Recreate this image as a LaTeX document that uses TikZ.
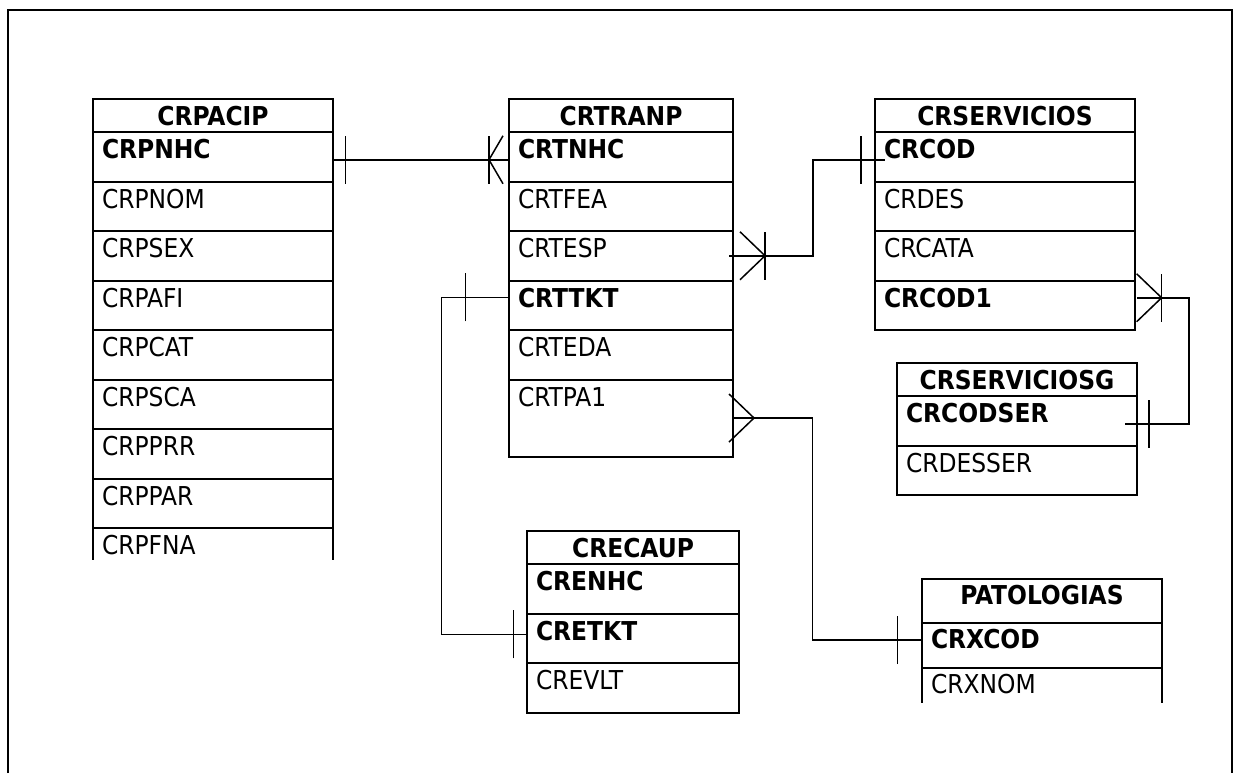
\documentclass[tikz,border=0pt]{standalone}
\usepackage{fontspec}
\setmainfont{DejaVu Sans Condensed}
\usetikzlibrary{positioning}

\newcommand{\erdfont}{\fontsize{13pt}{15pt}\selectfont}

% relationship ends
\tikzset{
  onebar/.pic={\draw[conn] (0,-12pt) -- (0,12pt);},
  crowfoot/.pic={\draw[conn] (12.5pt,12pt) -- (0,0) -- (12.5pt,-12pt);},
}

\begin{document}
\begin{tikzpicture}[x=0.5pt, y=-0.5pt,
    tbltitle/.style={draw, line width=1pt, outer sep=0pt, anchor=north west, font=\erdfont\bfseries,
      inner sep=0pt, minimum width=#1, minimum height=16.5pt, text height=13pt, text depth=3.5pt},
    tblfield/.style={draw, line width=1pt, outer sep=0pt, anchor=north, font=\erdfont,
      inner xsep=4.5pt, inner ysep=0pt, text width=#1, align=left,
      minimum height=24.75pt, text height=13.25pt, text depth=11.5pt},
    keyfield/.style={tblfield=#1, font=\erdfont\bfseries},
    conn/.style={line width=0.75pt}]
\useasboundingbox (0,0) rectangle (1235,773);

% outer frame, open at the bottom
\draw[line width=1pt] (8,773) -- (8,10) -- (1231.5,10) -- (1231.5,773);

% CRPACIP
\node[tbltitle=120pt] (pacip) at (93,99) {CRPACIP};
\node[keyfield=111pt, below=0pt of pacip] (pacip-nhc) {CRPNHC};
\node[tblfield=111pt, below=0pt of pacip-nhc] (pacip-nom) {CRPNOM};
\node[tblfield=111pt, below=0pt of pacip-nom] (pacip-sex) {CRPSEX};
\node[tblfield=111pt, below=0pt of pacip-sex] (pacip-afi) {CRPAFI};
\node[tblfield=111pt, below=0pt of pacip-afi] (pacip-cat) {CRPCAT};
\node[tblfield=111pt, below=0pt of pacip-cat] (pacip-sca) {CRPSCA};
\node[tblfield=111pt, below=0pt of pacip-sca] (pacip-prr) {CRPPRR};
\node[tblfield=111pt, below=0pt of pacip-prr] (pacip-par) {CRPPAR};
\node[tblfield=111pt, below=0pt of pacip-par, draw=none, minimum height=16pt, text depth=2.75pt] (pacip-fna) {CRPFNA};
\draw[line width=1pt] (pacip-fna.north west) -- (pacip-fna.south west)
  (pacip-fna.north east) -- (pacip-fna.south east);

% CRTRANP
\node[tbltitle=112pt] (tranp) at (509,99) {CRTRANP};
\node[keyfield=103pt, below=0pt of tranp] (tranp-nhc) {CRTNHC};
\node[tblfield=103pt, below=0pt of tranp-nhc] (tranp-fea) {CRTFEA};
\node[tblfield=103pt, below=0pt of tranp-fea] (tranp-esp) {CRTESP};
\node[keyfield=103pt, below=0pt of tranp-esp] (tranp-tkt) {CRTTKT};
\node[tblfield=103pt, below=0pt of tranp-tkt] (tranp-eda) {CRTEDA};
\node[tblfield=103pt, below=0pt of tranp-eda, minimum height=38.5pt, text depth=25.25pt] (tranp-pa1) {CRTPA1};

% CRSERVICIOS
\node[tbltitle=130pt] (serv) at (875,99) {CRSERVICIOS};
\node[keyfield=121pt, below=0pt of serv] (serv-cod) {CRCOD};
\node[tblfield=121pt, below=0pt of serv-cod] (serv-des) {CRDES};
\node[tblfield=121pt, below=0pt of serv-des] (serv-cata) {CRCATA};
\node[keyfield=121pt, below=0pt of serv-cata] (serv-cod1) {CRCOD1};

% CRSERVICIOSG
\node[tbltitle=120pt] (servg) at (897,363) {CRSERVICIOSG};
\node[keyfield=111pt, below=0pt of servg] (servg-codser) {CRCODSER};
\node[tblfield=111pt, below=0pt of servg-codser] (servg-desser) {CRDESSER};

% CRECAUP
\node[tbltitle=106pt] (ecaup) at (527,531) {CRECAUP};
\node[keyfield=97pt, below=0pt of ecaup] (ecaup-enhc) {CRENHC};
\node[keyfield=97pt, below=0pt of ecaup-enhc] (ecaup-etkt) {CRETKT};
\node[tblfield=97pt, below=0pt of ecaup-etkt] (ecaup-evlt) {CREVLT};

% PATOLOGIAS
\node[tbltitle=120pt, minimum height=22pt, text height=12.5pt, text depth=9.5pt] (pato) at (922,579) {PATOLOGIAS};
\node[keyfield=111pt, below=0pt of pato, minimum height=22.5pt, text height=12.5pt, text depth=10pt] (pato-xcod) {CRXCOD};
\node[tblfield=111pt, below=0pt of pato-xcod, draw=none, minimum height=17.5pt, text height=12.5pt, text depth=5pt] (pato-xnom) {CRXNOM};
\draw[line width=1pt] (pato-xnom.north west) -- (pato-xnom.south west)
  (pato-xnom.north east) -- (pato-xnom.south east);

% CRPACIP -- CRTRANP
\draw[conn] ([yshift=-1.5pt]pacip-nhc.east) -- ([yshift=-1.5pt]tranp-nhc.west);
\pic at ([xshift=6.35pt,yshift=-1.5pt]pacip-nhc.east) {onebar};
\pic at ([xshift=-10pt,yshift=-1.5pt]tranp-nhc.west) {onebar};
\pic[xscale=0.56] at ([xshift=-10pt,yshift=-1.5pt]tranp-nhc.west) {crowfoot};

% CRTRANP -- CRSERVICIOS
\draw[conn] ([xshift=-2pt]tranp-esp.east) -- ++(42pt,0) |- ([xshift=5pt,yshift=-1.5pt]serv-cod.west);
\pic at ([xshift=16pt]tranp-esp.east) {onebar};
\pic[xscale=-1] at ([xshift=16pt]tranp-esp.east) {crowfoot};
\pic at ([xshift=-7pt,yshift=-1.5pt]serv-cod.west) {onebar};

% CRSERVICIOS -- CRSERVICIOSG
\draw[conn] ([xshift=1pt,yshift=3.75pt]serv-cod1.east) -- ++(26pt,0) |- ([xshift=-6pt,yshift=-1.5pt]servg-codser.east);
\pic at ([xshift=13.3pt,yshift=3.75pt]serv-cod1.east) {onebar};
\pic[xscale=-1] at ([xshift=13.3pt,yshift=3.75pt]serv-cod1.east) {crowfoot};
\pic at ([xshift=6pt,yshift=-1.5pt]servg-codser.east) {onebar};

% CRTRANP -- CRECAUP
\draw[conn] ([yshift=4pt]tranp-tkt.west) -- ++(-33.65pt,0) |- ([yshift=2pt]ecaup-etkt.west);
\pic at ([xshift=-21.65pt,yshift=4pt]tranp-tkt.west) {onebar};
\pic at ([xshift=-6.65pt,yshift=2pt]ecaup-etkt.west) {onebar};

% CRTRANP -- PATOLOGIAS
\draw[conn] (tranp-pa1.east) -- ++(39.65pt,0) |- ([yshift=2.75pt]pato-xcod.west);
\pic[xscale=-1] at ([xshift=10.5pt]tranp-pa1.east) {crowfoot};
\pic at ([xshift=-12.15pt,yshift=2.75pt]pato-xcod.west) {onebar};
\end{tikzpicture}
\end{document}
